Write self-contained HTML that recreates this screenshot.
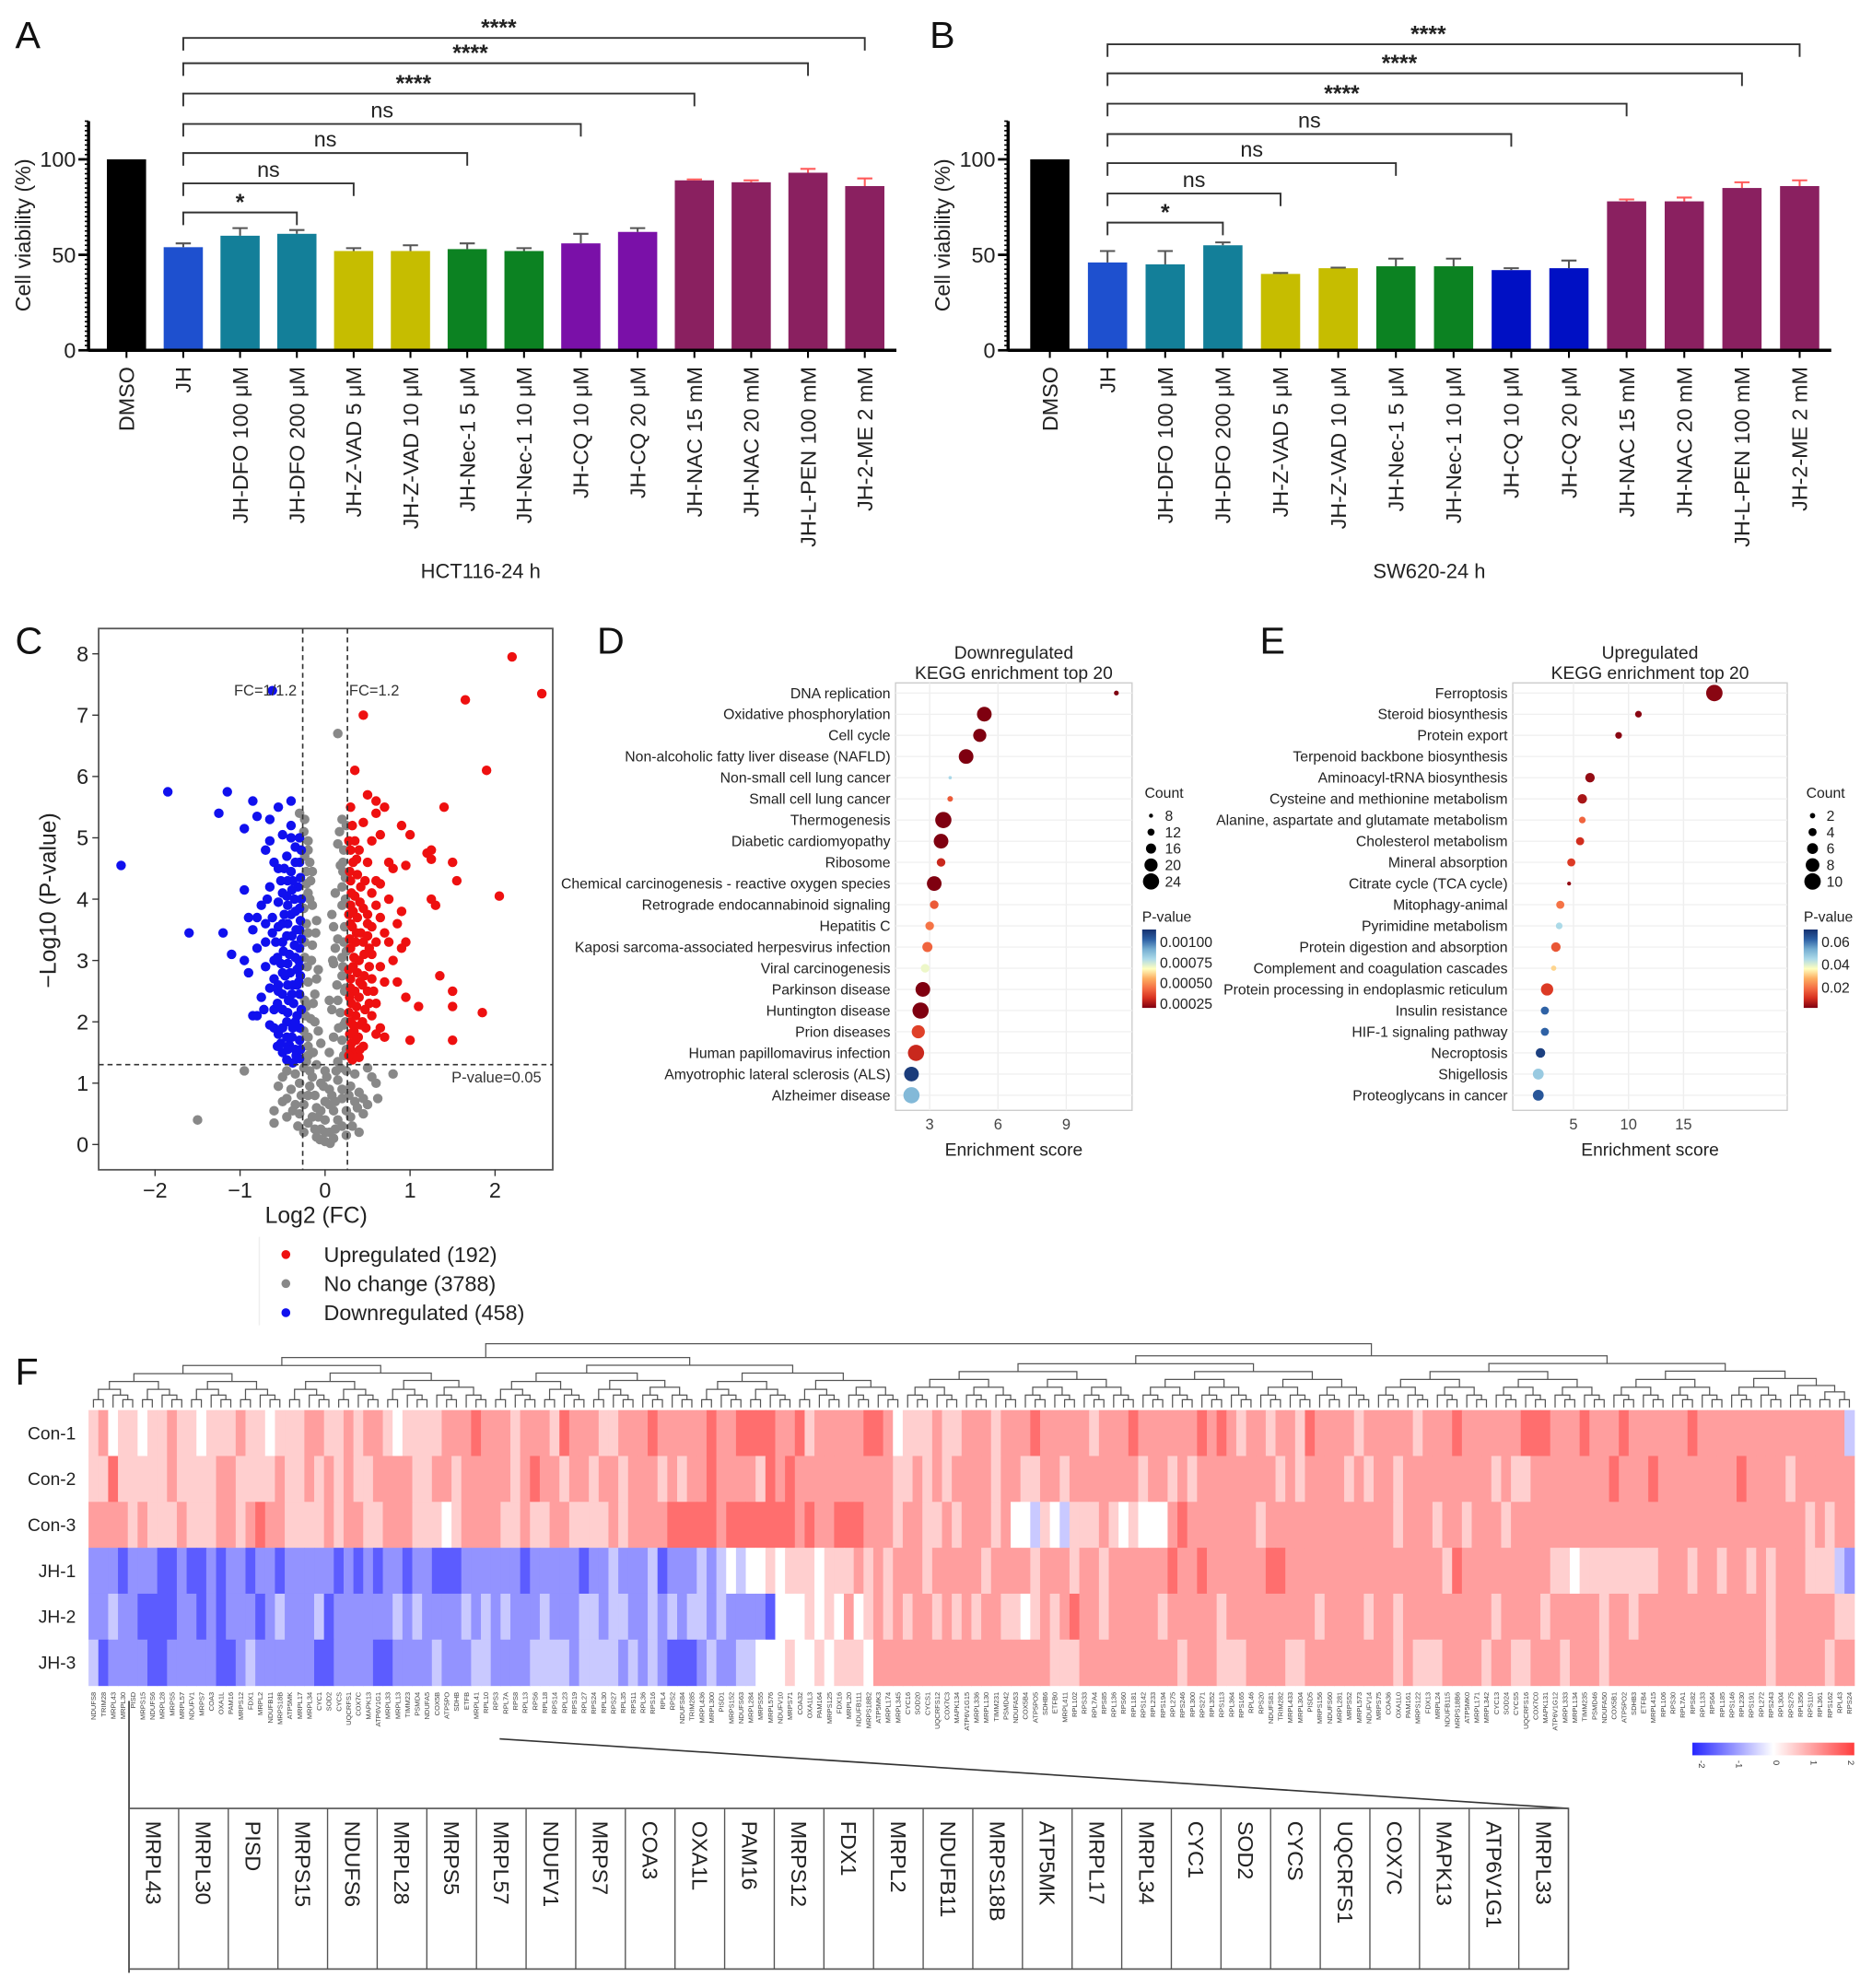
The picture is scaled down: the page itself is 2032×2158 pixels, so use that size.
<!DOCTYPE html>
<html><head><meta charset="utf-8">
<style>
html,body{margin:0;padding:0;background:#fff;}
svg{display:block;font-family:"Liberation Sans",Arial,sans-serif;}
</style></head>
<body>
<svg id="fig" xmlns="http://www.w3.org/2000/svg" width="2032" height="2158" viewBox="0 0 1480 1572" preserveAspectRatio="none">
<rect x="0" y="0" width="1480" height="1572" fill="#fff"/>
<g id="pA"></g>
<g id="pB"></g>
<g id="pC"></g>
<g id="pD"></g>
<g id="pE"></g>
<g id="pF"></g>
</svg>
<script>
// ---------- DATA ----------
const barCategories = ["DMSO","JH","JH-DFO 100 μM","JH-DFO 200 μM","JH-Z-VAD 5 μM","JH-Z-VAD 10 μM","JH-Nec-1 5 μM","JH-Nec-1 10 μM","JH-CQ 10 μM","JH-CQ 20 μM","JH-NAC 15 mM","JH-NAC 20 mM","JH-L-PEN 100 mM","JH-2-ME 2 mM"];
const hctValues = [100,54,60,61,52,52,53,52,56,62,89,88,93,86];
const hctErrors = [0,2,4,2,1.5,3,3,1.5,5,2,0.5,1,2,4];
const swValues = [100,46,45,55,40,43,44,44,42,43,78,78,85,86];
const swErrors = [0,6,7,1.5,0.5,0.3,4,4,1,4,1,2,3,3];
const barTicks = [0,50,100];
const sigTargets = [3,4,6,8,10,12,13];
const sigLabels = ["*","ns","ns","ns","****","****","****"];

const volcUp = [[2.2,7.95],[2.55,7.35],[1.65,7.25],[0.45,7.0],[1.9,6.1],[0.35,6.1],[1.4,5.5],[0.3,5.5],[0.5,5.7],[0.6,5.6],[0.7,5.5],[0.6,5.4],[0.45,5.25],[0.9,5.2],[1.0,5.05],[0.65,5.05],[0.55,4.95],[1.2,4.75],[1.25,4.8],[1.25,4.65],[1.5,4.6],[0.75,4.6],[0.95,4.55],[0.5,4.6],[0.8,4.5],[1.55,4.3],[0.6,4.3],[0.65,4.25],[1.25,4.0],[1.3,3.9],[2.05,4.05],[0.75,4.0],[0.9,3.8],[0.6,3.9],[0.65,3.7],[0.85,3.6],[0.7,3.45],[0.5,3.6],[0.6,3.3],[0.75,3.3],[0.95,3.3],[0.9,3.2],[0.8,3.0],[0.65,2.9],[0.55,3.1],[1.35,2.75],[0.55,2.7],[0.7,2.65],[0.85,2.65],[1.5,2.5],[0.95,2.4],[1.1,2.25],[1.5,2.25],[0.6,2.3],[1.85,2.15],[0.55,2.1],[0.65,1.9],[0.6,1.8],[1.0,1.7],[1.5,1.7],[0.7,1.75],
[0.32,5.2],[0.35,4.95],[0.3,4.8],[0.4,4.8],[0.33,4.6],[0.38,4.4],[0.3,4.3],[0.42,4.2],[0.35,4.05],[0.3,3.9],[0.45,3.85],[0.38,3.7],[0.32,3.55],[0.42,3.45],[0.36,3.3],[0.3,3.2],[0.46,3.1],[0.4,3.0],[0.33,2.9],[0.38,2.8],[0.3,2.7],[0.44,2.6],[0.35,2.5],[0.4,2.4],[0.31,2.3],[0.47,2.2],[0.36,2.1],[0.3,2.0],[0.42,1.95],[0.34,1.85],[0.39,1.75],[0.31,1.65],[0.45,1.6],[0.35,1.5],[0.4,1.42],[0.32,1.38],[0.5,3.4],[0.52,2.9],[0.5,2.5],[0.48,1.9],[0.55,4.1],[0.5,3.75],[0.3,2.55],[0.34,3.05],[0.3,3.6],[0.31,4.1],[0.36,1.7],[0.3,1.55],
[0.28,4.95],[0.29,4.45],[0.28,3.75],[0.29,3.35],[0.28,2.85],[0.29,2.4],[0.28,2.15],[0.29,1.8],[0.28,1.45],[0.37,4.65],[0.41,3.95],[0.37,3.45],[0.41,2.65],[0.37,2.25],[0.41,1.55],[0.45,3.3],[0.46,2.75],[0.44,2.0],[0.47,4.3],[0.52,3.2],[0.52,2.3],[0.57,2.5],[0.55,3.55],[0.33,3.8],[0.33,1.95]];
const volcDown = [[-2.4,4.55],[-1.85,5.75],[-1.15,5.75],[-1.25,5.4],[-0.85,5.6],[-0.8,5.35],[-0.55,5.5],[-0.4,5.6],[-0.95,5.15],[-0.65,5.3],[-0.4,5.2],[-1.6,3.45],[-1.2,3.45],[-1.1,3.1],[-0.95,4.15],[-0.95,3.0],[-0.9,2.8],[-0.85,2.1],[-0.8,2.1],[-0.75,2.4],[-0.9,3.7],[-0.8,3.7],[-0.85,3.5],[-0.75,3.9],[-0.7,4.8],[-0.65,4.95],[-0.6,4.6],[-0.8,3.2],[-0.7,3.3],[-0.6,3.0],[-0.55,2.6],[-0.7,2.9],[-0.6,1.9],[-0.62,7.4],
[-0.3,5.0],[-0.35,4.85],[-0.45,4.7],[-0.3,4.6],[-0.4,4.45],[-0.52,4.3],[-0.32,4.2],[-0.45,4.05],[-0.55,3.95],[-0.3,3.85],[-0.4,3.75],[-0.5,3.6],[-0.34,3.5],[-0.45,3.4],[-0.58,3.3],[-0.3,3.2],[-0.42,3.1],[-0.52,2.95],[-0.33,2.85],[-0.47,2.75],[-0.38,2.6],[-0.55,2.5],[-0.3,2.45],[-0.43,2.35],[-0.5,2.2],[-0.33,2.1],[-0.45,2.0],[-0.38,1.9],[-0.55,1.8],[-0.3,1.7],[-0.42,1.62],[-0.5,1.5],[-0.34,1.45],[-0.45,1.38],[-0.38,1.33],[-0.3,1.4],[-0.3,2.9],[-0.3,3.5],[-0.36,4.0],[-0.48,4.5],[-0.37,2.3],[-0.62,3.7],[-0.6,2.2],[-0.65,4.2],[-0.3,1.9],[-0.4,5.0],[-0.5,5.05],[-0.36,3.25],[-0.49,3.15],[-0.31,2.65],[-0.41,2.8],[-0.52,1.65],[-0.35,1.55],[-0.6,2.7],[-0.55,3.55],[-0.38,4.3],[-0.31,3.0],[-0.45,1.75],
[-0.28,4.8],[-0.29,4.35],[-0.28,4.0],[-0.29,3.65],[-0.28,3.35],[-0.29,2.75],[-0.28,2.2],[-0.29,1.55],[-0.35,4.6],[-0.39,4.15],[-0.35,3.8],[-0.39,3.4],[-0.35,3.05],[-0.39,2.45],[-0.35,2.0],[-0.39,1.75],[-0.44,4.3],[-0.44,3.9],[-0.44,3.6],[-0.44,2.95],[-0.44,2.6],[-0.44,2.15],[-0.44,1.55],[-0.5,4.1],[-0.5,3.3],[-0.5,2.8],[-0.5,2.45],[-0.5,1.9],[-0.55,4.5],[-0.56,3.05],[-0.56,2.3],[-0.56,1.6],[-0.62,3.45],[-0.65,2.55],[-0.65,1.95],[-0.7,3.6],[-0.72,2.2],[-0.68,4.0],[-0.33,2.6],[-0.48,3.75]];
const volcNone = [[0.15,6.7],[-0.3,5.4],[0.2,5.3],[0.25,5.2],[-0.25,5.1],[-0.2,4.95],[0.22,4.8],[-0.24,4.7],[0.18,4.55],[-0.15,4.45],[0.24,4.35],[-0.22,4.25],[0.12,4.1],[-0.18,4.0],[0.2,3.9],[-0.25,3.85],[0.08,3.75],[-0.1,3.65],[0.23,3.55],[-0.2,3.45],[0.15,3.35],[-0.15,3.25],[0.25,3.15],[-0.24,3.05],[0.1,2.95],[-0.08,2.85],[0.2,2.75],[-0.2,2.65],[0.24,2.55],[-0.12,2.45],[0.05,2.35],[-0.22,2.25],[0.18,2.15],[-0.17,2.05],[0.22,1.95],[-0.25,1.85],[0.1,1.75],[-0.05,1.65],[0.25,1.55],[-0.2,1.45],[0.15,1.35],[-0.1,1.3],[0.0,1.2],[-0.15,1.1],[0.15,1.05],[-0.3,1.0],[0.3,0.95],[-0.4,0.9],[0.4,0.85],[0.05,0.9],[-0.2,0.8],[0.2,0.75],[-0.5,0.7],[0.5,0.65],[0.0,0.7],[-0.1,0.6],[0.1,0.55],[-0.3,0.5],[0.3,0.45],[0.0,0.4],[-0.2,0.35],[0.2,0.3],[-0.05,0.25],[0.05,0.2],[-0.1,0.12],[0.1,0.1],[0.0,0.05],[-0.35,0.65],[0.45,0.5],[-0.55,0.95],[0.6,1.0],[-0.45,1.2],[0.5,1.25],[-1.5,0.4],[-0.95,1.2],[0.8,1.15],[-0.6,0.35],[0.4,0.2],[-0.25,0.2],[0.25,0.15],[0.2,4.2],[-0.22,3.6],[0.2,3.05],[-0.24,2.35],[0.23,2.5],[-0.2,1.6],[0.2,1.7],[-0.15,3.9],[0.12,3.2],[-0.12,2.0],[0.14,2.6],[-0.18,4.6],[0.15,4.9],[0.05,1.5],[-0.05,1.0],[0.08,0.8],[-0.08,0.45],[0.35,0.7],[-0.45,0.45],[0.25,1.2],[-0.25,1.25],
[-0.22,4.45],[-0.2,4.1],[-0.24,3.3],[-0.21,2.9],[-0.23,2.1],[-0.2,1.75],[-0.22,1.35],[0.21,4.6],[0.24,4.0],[0.22,3.3],[0.21,2.9],[0.24,2.0],[0.22,1.45],[-0.16,3.0],[-0.14,2.3],[0.15,2.35],[0.16,1.9],[-0.14,1.5],[0.13,1.2],[-0.18,0.95],[0.2,0.9],[-0.28,0.8],[0.28,0.8],[-0.12,0.8],[0.12,0.7],[-0.38,0.55],[0.38,0.6],[-0.15,0.45],[0.15,0.4],[-0.05,0.55],[0.05,0.65],[-0.25,0.65],[0.25,0.55],[-0.45,0.75],[0.45,0.75],[-0.32,0.3],[0.32,0.3],[-0.12,0.25],[0.12,0.25],[0.0,0.2],[-0.06,0.08],[0.06,0.02],[-0.5,1.1],[0.55,1.1],[-0.35,1.15],[0.35,1.15],[-0.6,0.55],[0.62,0.75],[0.02,1.1],[-0.02,0.95],[0.18,1.25],[-0.18,1.2],[-0.24,5.3],[0.17,5.1],[-0.2,4.8],[0.21,4.45],[-0.17,4.3],[0.1,3.55],[-0.11,3.45],[0.09,3.0],[-0.1,2.7],[0.08,2.2],[-0.08,1.85]];

const downTerms = ["DNA replication","Oxidative phosphorylation","Cell cycle","Non-alcoholic fatty liver disease (NAFLD)","Non-small cell lung cancer","Small cell lung cancer","Thermogenesis","Diabetic cardiomyopathy","Ribosome","Chemical carcinogenesis - reactive oxygen species","Retrograde endocannabinoid signaling","Hepatitis C","Kaposi sarcoma-associated herpesvirus infection","Viral carcinogenesis","Parkinson disease","Huntington disease","Prion diseases","Human papillomavirus infection","Amyotrophic lateral sclerosis (ALS)","Alzheimer disease"];
const downScore = [11.2,5.4,5.2,4.6,3.9,3.9,3.6,3.5,3.5,3.2,3.2,3.0,2.9,2.8,2.7,2.6,2.5,2.4,2.2,2.2];
const downCount = [9,22,20,22,7,10,24,22,14,22,14,14,16,14,22,24,20,24,22,24];
const downP = [0.0002,0.0002,0.0002,0.0002,0.0008,0.0004,0.0002,0.0002,0.0003,0.0002,0.0004,0.00045,0.00042,0.0007,0.0002,0.0002,0.00035,0.0003,0.00112,0.00088];
const downXTicks = [3,6,9];
const downCountTicks = [8,12,16,20,24];
const downPTicks = [0.001,0.00075,0.0005,0.00025];
const downPLabels = ["0.00100","0.00075","0.00050","0.00025"];

const upTerms = ["Ferroptosis","Steroid biosynthesis","Protein export","Terpenoid backbone biosynthesis","Aminoacyl-tRNA biosynthesis","Cysteine and methionine metabolism","Alanine, aspartate and glutamate metabolism","Cholesterol metabolism","Mineral absorption","Citrate cycle (TCA cycle)","Mitophagy-animal","Pyrimidine metabolism","Protein digestion and absorption","Complement and coagulation cascades","Protein processing in endoplasmic reticulum","Insulin resistance","HIF-1 signaling pathway","Necroptosis","Shigellosis","Proteoglycans in cancer"];
const upScore = [17.8,10.9,9.1,null,6.5,5.8,5.8,5.6,4.8,4.6,3.8,3.7,3.4,3.2,2.6,2.4,2.4,2.0,1.8,1.8];
const upCount = [10,3,3,0,5,5,3,4,4,1,4,3,5,2,7,4,4,5,6,6];
const upP = [0.003,0.003,0.003,0.003,0.004,0.006,0.018,0.01,0.012,0.004,0.02,0.045,0.016,0.032,0.012,0.062,0.062,0.068,0.048,0.064];
const upXTicks = [5,10,15];
const upCountTicks = [2,4,6,8,10];
const upPTicks = [0.06,0.04,0.02];
const upPLabels = ["0.06","0.04","0.02"];

const heatRows = ["Con-1","Con-2","Con-3","JH-1","JH-2","JH-3"];
const heatCon1 = "564554556554555655455566556566545555666766656665766655666766666766777766756666677645556556665666766666566676666667676566566576666566666566676666667776667666766666676666666666666663";
const heatCon2 = "557555556555566555565565656556666556656666656766566566566656566766665767666666666655656566665665566566666665665656666666656566665656656666666665655666666667666766666666766665666666663";
const heatCon3 = "666656555655566567665555656655666555456666556556655556566667777767777777676677766656655656665644354355565454446766666665666666666666656665665666566666666666666666666666666666656566653";
const heatJH1  = "222122211211212212212222212121221221112222221222221223222312223234344545554555656566656666656666566656656666667667666666776666666666666666576666666665545555555566656656656566655532";
const heatJH2  = "223221111221212221232223122222232322223232322232223323322323233232222144454546456565665656566554565676656666656666656666666665666656656666666665666656666656656666666666666566666655628";
const heatJH3  = "312222112222211232222221122221122223222332222333323333232321112322334445445455546666666666666666665556666666666566655566665566666666656555666656655666566656666666666666666566666566665";
const heatLevels = [-2,-1.5,-1,-0.5,0,0.5,1,1.5,2];
const heatScaleTicks = ["-2","-1","0","1","2"];
const boxGenes = ["MRPL43","MRPL30","PISD","MRPS15","NDUFS6","MRPL28","MRPS5","MRPL57","NDUFV1","MRPS7","COA3","OXA1L","PAM16","MRPS12","FDX1","MRPL2","NDUFB11","MRPS18B","ATP5MK","MRPL17","MRPL34","CYC1","SOD2","CYCS","UQCRFS1","COX7C","MAPK13","ATP6V1G1","MRPL33"];
const geneLabelBase = ["NDUFS8","TRIM28","MRPL43","MRPL30","PISD","MRPS15","NDUFS6","MRPL28","MRPS5","MRPL57","NDUFV1","MRPS7","COA3","OXA1L","PAM16","MRPS12","FDX1","MRPL2","NDUFB11","MRPS18B","ATP5MK","MRPL17","MRPL34","CYC1","SOD2","CYCS","UQCRFS1","COX7C","MAPK13","ATP6V1G1","MRPL33","MRPL13","TIMM23","PSMD4","NDUFA5","COX5B","ATP5PO","SDHB","ETFB","MRPL41","RPL10","RPS3","RPL7A","RPS8","RPL13","RPS6","RPL18","RPS14","RPL23","RPS19","RPL27","RPS24","RPL30","RPS27","RPL35","RPS11","RPL36","RPS16","RPL4","RPS2"];

// ---------- HELPERS ----------
const NS="http://www.w3.org/2000/svg";
function mk(tag,attrs,parent,txt){const e=document.createElementNS(NS,tag);for(const k in attrs)e.setAttribute(k,attrs[k]);if(txt!==undefined)e.textContent=txt;parent.appendChild(e);return e;}
function txt(parent,x,y,s,size,opts){opts=opts||{};const e=mk('text',{x:x,y:y,'font-size':size,fill:opts.fill||'#222','text-anchor':opts.anchor||'start'},parent,s);if(opts.rot!==undefined)e.setAttribute('transform','rotate('+opts.rot+' '+x+' '+y+')');if(opts.weight)e.setAttribute('font-weight',opts.weight);return e;}

// ---------- BAR PANELS ----------
function barPanel(gid,axisX,firstX,step,values,errors,colors,errColors,bracketY,title,titleX,label,labelX){
  const g=document.getElementById(gid);
  const y0=277, k=1.51, bw=31;
  const yS=v=>y0-v*k, xS=i=>firstX+i*step;
  const lab=txt(g,labelX,38,label,30,{fill:'#111'});
  
  values.forEach((v,i)=>{
    const r=mk('rect',{x:xS(i)-bw/2,y:yS(v),width:bw,height:v*k,fill:colors[i]},g);
    
    
    if(errors[i]>0){
      const ey=yS(v+errors[i]);
      mk('line',{x1:xS(i),x2:xS(i),y1:yS(v),y2:ey,stroke:errColors[i],'stroke-width':1.5},g);
      mk('line',{x1:xS(i)-6,x2:xS(i)+6,y1:ey,y2:ey,stroke:errColors[i],'stroke-width':1.5},g);
    }
    const t=txt(g,xS(i)+6,290,barCategories[i],17,{anchor:'end',rot:-90});
    
  });
  const ax=mk('line',{x1:axisX,x2:axisX,y1:yS(120),y2:y0+1,stroke:'#000','stroke-width':2.5},g);
  
  const xa=mk('line',{x1:axisX,x2:xS(13)+25,y1:y0,y2:y0,stroke:'#000','stroke-width':2.5},g);
  
  for(let v=0;v<=120;v+=2.5){mk('line',{x1:axisX-3,x2:axisX,y1:yS(v),y2:yS(v),stroke:'#000','stroke-width':1.2},g);}
  barTicks.forEach(v=>{mk('line',{x1:axisX-8,x2:axisX,y1:yS(v),y2:yS(v),stroke:'#000','stroke-width':2},g);
    const t=txt(g,axisX-10,yS(v)+6,String(v),17,{anchor:'end'});});
  values.forEach((v,i)=>{mk('line',{x1:xS(i),x2:xS(i),y1:y0,y2:y0+6,stroke:'#000','stroke-width':1.5},g);});
  const yt=txt(g,axisX-46,186,'Cell viability (%)',17,{anchor:'middle',rot:-90});
  
  const xt=txt(g,titleX,457,title,16,{anchor:'middle'});
  
  sigTargets.forEach((ti,j)=>{
    const by=bracketY[j], x1=xS(1), x2=xS(ti);
    const p=mk('path',{d:`M${x1},${by+10}V${by}H${x2}V${by+10}`,fill:'none',stroke:'#333','stroke-width':1.4},g);
    
    const s=sigLabels[j];
    const t=txt(g,(x1+x2)/2-(s.length>2?20:0),by-(s==='ns'?5:2),s,s==='ns'?17:18,{anchor:'middle',weight:s.indexOf('*')>=0?'bold':null});
    
  });
}
const maroon='#8a2060';
barPanel('pA',70,100,44.9,hctValues,hctErrors,
 ['#000','#1e50cf','#137f99','#137f99','#c6bd00','#c6bd00','#0c8222','#0c8222','#7a10a8','#7a10a8',maroon,maroon,maroon,maroon],
 ['#000','#555','#555','#555','#555','#555','#555','#555','#555','#555','#ff5a5a','#ff5a5a','#ff5a5a','#ff5a5a'],
 [168,145,121,98,74,50,30],'HCT116-24 h',380,'A',12);
barPanel('pB',797,830,45.6,swValues,swErrors,
 ['#000','#1e50cf','#137f99','#137f99','#c6bd00','#c6bd00','#0c8222','#0c8222','#0010c4','#0010c4',maroon,maroon,maroon,maroon],
 ['#000','#555','#555','#555','#555','#555','#555','#555','#555','#555','#ff5a5a','#ff5a5a','#ff5a5a','#ff5a5a'],
 [176,153,129,106,82,58,35],'SW620-24 h',1130,'B',735);

// ---------- VOLCANO ----------
(function(){
  const g=document.getElementById('pC');
  const xS=v=>257+v*67.2, yS=v=>905-v*48.5;
  const L=txt(g,12,517,'C',30,{fill:'#111'});
  const box=mk('rect',{x:78,y:497,width:359,height:428,fill:'#fff',stroke:'#555','stroke-width':1.3},g);
  
  function pts(arr,col,name){arr.forEach(p=>{const c=mk('circle',{cx:xS(p[0]),cy:yS(p[1]),r:3.8,fill:col},g);
    });}
  pts(volcNone,'#888','point-no-change');pts(volcDown,'#1010ee','point-downregulated');pts(volcUp,'#ee1010','point-upregulated');
  const fc=Math.log2(1.2), pth=-Math.log10(0.05);
  [[-fc],[fc]].forEach(v=>{const l=mk('line',{x1:xS(v[0]),x2:xS(v[0]),y1:497,y2:925,stroke:'#333','stroke-width':1.2,'stroke-dasharray':'4,3'},g);
    });
  const h=mk('line',{x1:78,x2:437,y1:yS(pth),y2:yS(pth),stroke:'#333','stroke-width':1.2,'stroke-dasharray':'4,3'},g);
  
  txt(g,185,550,'FC=1/1.2',12,{fill:'#333'});txt(g,276,550,'FC=1.2',12,{fill:'#333'});txt(g,357,856,'P-value=0.05',12,{fill:'#333'});
  [-2,-1,0,1,2].forEach(v=>{mk('line',{x1:xS(v),x2:xS(v),y1:925,y2:930,stroke:'#333'},g);
    const t=txt(g,xS(v),947,(v<0?'−':'')+Math.abs(v),17,{anchor:'middle'});});
  for(let v=0;v<=8;v++){mk('line',{x1:73,x2:78,y1:yS(v),y2:yS(v),stroke:'#333'},g);
    const t=txt(g,70,yS(v)+6,String(v),17,{anchor:'end'});}
  const xt=txt(g,250,967,'Log2 (FC)',18,{anchor:'middle'});
  const yt=txt(g,44,712,'−Log10 (P-value)',18,{anchor:'middle',rot:-90});
  mk('line',{x1:205,x2:205,y1:978,y2:1048,stroke:'#eee'},g);
  [['#ee1010','Upregulated (192)'],['#888','No change (3788)'],['#1010ee','Downregulated (458)']].forEach((e,i)=>{
    const c=mk('circle',{cx:226,cy:992+i*23,r:3.5,fill:e[0]},g);
    const t=txt(g,256,998+i*23,e[1],17);});
})();

// ---------- KEGG DOT PLOTS ----------
const rdylbu=['#7f0010','#d7301f','#f46d43','#fdae61','#ffffbf','#abd9e9','#74add1','#2c5fa3','#15306e'];
function cmap(t){t=Math.max(0,Math.min(1,t));const n=rdylbu.length-1,i=Math.min(n-1,Math.floor(t*n)),f=t*n-i;
  const a=rdylbu[i],b=rdylbu[i+1];const h=s=>[1,3,5].map(j=>parseInt(s.substr(j,2),16));const A=h(a),B=h(b);
  return 'rgb('+A.map((v,j)=>Math.round(v+(B[j]-v)*f)).join(',')+')';}
function dotPanel(gid,o){
  const g=document.getElementById(gid);
  const L=txt(g,o.labelX,517,o.label,30,{fill:'#111'});
  const xS=v=>o.x0+v*o.kx, yS=i=>548+i*16.74;
  txt(g,(o.bx1+o.bx2)/2,521,o.title,14,{anchor:'middle'});txt(g,(o.bx1+o.bx2)/2,537,'KEGG enrichment top 20',14,{anchor:'middle'});
  const box=mk('rect',{x:o.bx1,y:540,width:o.bx2-o.bx1,height:338,fill:'#fff',stroke:'#ccc','stroke-width':1},g);
  
  o.ticks.forEach(v=>{mk('line',{x1:xS(v),x2:xS(v),y1:540,y2:878,stroke:'#eee'},g);
    const t=txt(g,xS(v),893,String(v),12,{anchor:'middle',fill:'#444'});});
  o.terms.forEach((s,i)=>{mk('line',{x1:o.bx1,x2:o.bx2,y1:yS(i),y2:yS(i),stroke:'#f0f0f0'},g);
    const t=txt(g,o.bx1-4,yS(i)+4,s,11.5,{anchor:'end'});
    if(o.score[i]===null||o.count[i]<=0)return;
    const c=mk('circle',{cx:xS(o.score[i]),cy:yS(i),r:o.rS(o.count[i]),fill:cmap((o.p[i]-o.pmin)/(o.pmax-o.pmin))},g);
    });
  const xt=txt(g,(o.bx1+o.bx2)/2,914,'Enrichment score',14,{anchor:'middle'});
  txt(g,o.lx-5,631,'Count',11.5);
  o.countTicks.forEach((v,i)=>{const c=mk('circle',{cx:o.lx,cy:645+i*13,r:o.rS(v),fill:'#000'},g);
    txt(g,o.lx+11,649+i*13,String(v),11.5);});
  txt(g,o.lx-7,729,'P-value',11.5);
  const gid2=gid+'grad';const d=mk('defs',{},g);const lg=mk('linearGradient',{id:gid2,x1:0,y1:1,x2:0,y2:0},d);
  for(let i=0;i<=8;i++)mk('stop',{offset:(i/8),'stop-color':cmap(i/8)},lg);
  const cb=mk('rect',{x:o.lx-7,y:735,width:11,height:62,fill:'url(#'+gid2+')'},g);
  o.pTicks.forEach((v,i)=>{const y=797-(v-o.pmin)/(o.pmax-o.pmin)*62;txt(g,o.lx+7,y+4,o.pLabels[i],11.5);});
}
dotPanel('pD',{label:'D',labelX:472,title:'Downregulated',bx1:708,bx2:895,x0:681,kx:18,ticks:downXTicks,terms:downTerms,score:downScore,count:downCount,p:downP,pmin:0.0002,pmax:0.00115,rS:c=>1+Math.max(0,c-6)*0.3,lx:910,countTicks:downCountTicks,pTicks:downPTicks,pLabels:downPLabels});
dotPanel('pE',{label:'E',labelX:996,title:'Upregulated',bx1:1196,bx2:1413,x0:1200.5,kx:8.7,ticks:upXTicks,terms:upTerms,score:upScore,count:upCount,p:upP,pmin:0.002,pmax:0.071,rS:c=>1+c*0.55,lx:1433,countTicks:upCountTicks,pTicks:upPTicks,pLabels:upPLabels});

// ---------- HEATMAP ----------
(function(){
  const g=document.getElementById('pF');
  const L=txt(g,12,1095,'F',30,{fill:'#111'});
  const rows=[heatCon1,heatCon2,heatCon3,heatJH1,heatJH2,heatJH3];
  const n=heatCon1.length, X0=70, X1=1466, cw=(X1-X0)/n, Y0=1115, rh=36.3;
  function col(v){const t=Math.max(-1,Math.min(1,v/2));
    if(t>=0){const c=Math.round(255*(1-t*0.76));return `rgb(255,${c},${c})`;} const c=Math.round(255*(1+t*0.85));return `rgb(${c},${c},255)`;}
  rows.forEach((r,ri)=>{
    for(let j=0;j<n;j++){const v=heatLevels[+r[j]];
      const c=mk('rect',{x:X0+j*cw,y:Y0+ri*rh,width:cw+0.4,height:rh+0.4,fill:col(v)},g);
      }
    const t=txt(g,60,Y0+ri*rh+rh/2+5,heatRows[ri],14,{anchor:'end'});
  });
  const dg=mk('g',{stroke:'#555','stroke-width':0.9,fill:'none'},g);
  function node(a,b){ if(b-a===1)return {x:X0+(a+0.5)*cw,y:1113};
    const m=(a===0&&b===n)?83:Math.floor((a+b)/2);
    const L=node(a,m),R=node(m,b); const y=1113-6.2*Math.log2(b-a)-((a===0&&b===n)?4:0);
    mk('path',{d:`M${L.x},${L.y}V${y}H${R.x}V${R.y}`},dg); return {x:(L.x+R.x)/2,y:y};}
  node(0,n);
  for(let j=0;j<n;j++){const nm=geneLabelBase[j%geneLabelBase.length]+(j>=geneLabelBase.length?String(j%7):'');
    const x=X0+(j+0.5)*cw+2;const t=txt(g,x,1338,nm,5.5,{anchor:'end',rot:-90,fill:'#444'});
    }
  const d=mk('defs',{},g);const lg=mk('linearGradient',{id:'hmg',x1:0,y1:0,x2:1,y2:0},d);
  [-2,-1,0,1,2].forEach((v,i)=>mk('stop',{offset:i/4,'stop-color':col(v)},lg));
  const cb=mk('rect',{x:1338,y:1378,width:128,height:10,fill:'url(#hmg)'},g);
  heatScaleTicks.forEach((s,i)=>txt(g,1343+i*29.5,1392,s,7,{rot:90,fill:'#333'}));
  const bx=102,bw=(1240-102)/boxGenes.length;
  mk('line',{x1:bx,x2:bx,y1:1345,y2:1560,stroke:'#333','stroke-width':1.2},g);
  mk('line',{x1:395,x2:1240,y1:1375,y2:1430,stroke:'#333','stroke-width':1.2},g);
  const box=mk('rect',{x:bx,y:1430,width:1240-bx,height:127,fill:'none',stroke:'#555','stroke-width':1.2},g);
  
  boxGenes.forEach((s,i)=>{ if(i>0)mk('line',{x1:bx+i*bw,x2:bx+i*bw,y1:1430,y2:1557,stroke:'#555','stroke-width':1},g);
    const x=bx+i*bw+bw/2-6;const t=txt(g,x,1440,s,17,{rot:90});});
})();
</script>
</body></html>
